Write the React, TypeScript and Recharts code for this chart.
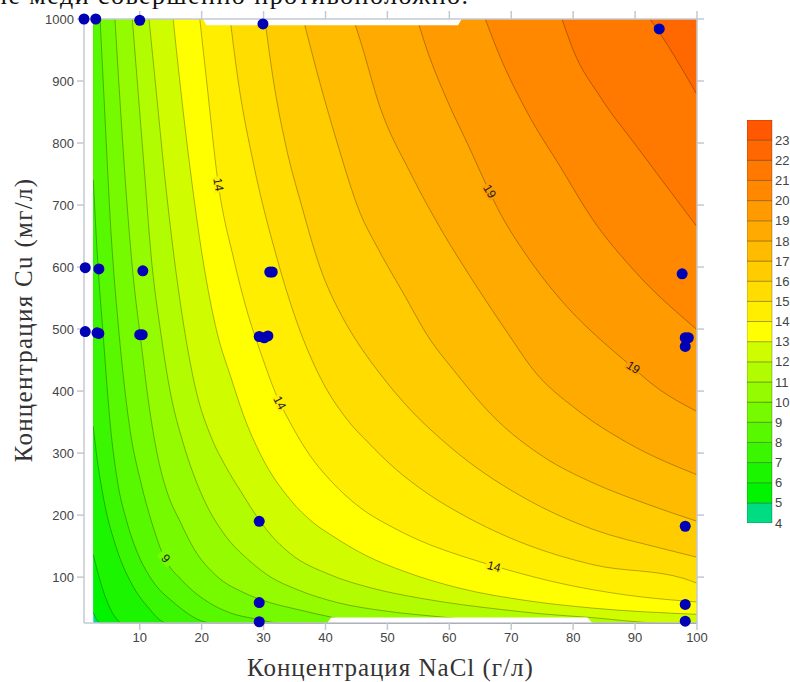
import React from 'react';
import { ComposedChart, Area, Scatter, XAxis, YAxis, BarChart, Bar } from 'recharts';

type Pt = { x: number; y: number };
const pts = (rows: number[][]): Pt[] => rows.map(([x, y]) => ({ x, y }));

const xTicks = [10, 20, 30, 40, 50, 60, 70, 80, 90, 100];
const yTicks = [100, 200, 300, 400, 500, 600, 700, 800, 900, 1000];
const legendTicks = [4, 5, 6, 7, 8, 9, 10, 11, 12, 13, 14, 15, 16, 17, 18, 19, 20, 21, 22, 23];
const bandColors = ['#00DC82', '#00F400', '#1CF500', '#3AF600', '#58F800', '#76FA00', '#94FB00', '#B1FC00', '#CFFD00', '#FFFF00', '#FFEE00', '#FFDD00', '#FFCC00', '#FFBB00', '#FFAA00', '#FF9A00', '#FF8800', '#FF7800', '#FF6800', '#FF5800'];

const level4 = [[2.5, 26], [100, 26]];
const level5 = [[2.5, 42], [3.7, 26]];
const level6 = [[2.5, 136], [4.2, 75], [6.3, 32], [7, 26]];
const level7 = [[2.5, 343], [3, 300], [4.2, 225], [6.3, 145], [8.6, 91], [11.2, 53], [14.4, 26]];
const level8 = [[2.5, 741], [3.2, 612], [4.1, 490], [5.3, 340], [6.4, 255], [7.9, 190], [9.6, 140], [11.8, 98], [15.5, 59], [21.7, 26]];
const level9 = [[3.6, 1000], [4.2, 880], [5.4, 650], [6.6, 500], [8.4, 340], [10.2, 252], [11.8, 193], [13.9, 133], [16.7, 96], [20.4, 64], [24.7, 42], [28.5, 33], [32.7, 26]];
const level10 = [[6, 1000], [6.8, 870], [7.9, 708], [8.9, 590], [10.2, 480], [11.6, 370], [13, 290], [14.5, 235], [16.5, 190], [18.8, 145], [22.5, 101], [26.8, 75], [31, 59], [35.4, 48], [40.7, 36], [46, 26]];
const level11 = [[8.8, 1000], [9.6, 900], [10.7, 762], [11.9, 612], [13.4, 494], [15, 395], [16.9, 320], [18.6, 268], [20.9, 214], [23.6, 170], [28, 124], [31, 101], [35.4, 80], [41.9, 59], [49.9, 45], [58.5, 36], [70, 26]];
const level12 = [[11.5, 1000], [12.7, 880], [14, 750], [15.6, 612], [17.3, 494], [19, 405], [21.7, 322], [23.8, 280], [26.4, 237], [28.9, 198], [31, 170], [34.3, 138], [40.7, 104], [47.2, 83], [55.3, 66], [61.7, 56], [68.2, 48], [74.7, 41], [82.7, 35], [94.5, 26]];
const level13 = [[15.4, 1000], [16.5, 897], [18.1, 762], [20.2, 612], [22.5, 494], [24.7, 423], [26.8, 360], [29.6, 296], [34.3, 225], [38, 188], [41.2, 166], [46.7, 134], [52.5, 110], [61.7, 82], [72.6, 62], [83.2, 50], [100, 40]];
const level14 = [[19.7, 1000], [20.8, 900], [22.6, 740], [25.2, 612], [27.3, 530], [29.6, 460], [32, 395], [34.3, 349], [37.5, 296], [40.7, 257], [45.6, 212], [50.9, 180], [56.9, 152], [61.7, 135], [65.5, 123], [69.3, 112], [77.9, 90], [88.7, 71], [97.3, 62], [100, 60]];
const level15 = [[24.6, 1000], [25.9, 900], [28.3, 770], [32, 620], [35.6, 505], [39.1, 423], [43.5, 354], [47, 316], [50.9, 278], [56.9, 232], [61.7, 203], [72.6, 152], [83.2, 120], [97.8, 98], [100, 90]];
const level16 = [[30.2, 1000], [31.6, 900], [33.5, 800], [36.2, 697], [39.1, 600], [42.8, 518], [45.6, 472], [48.8, 428], [53.7, 370], [58.5, 324], [61.7, 297], [72.6, 225], [83.2, 177], [94, 147], [100, 132]];
const level17 = [[36.4, 1000], [39.1, 897], [41.9, 800], [45.6, 687], [48.3, 633], [52.5, 559], [56.9, 483], [60.6, 435], [67.1, 359], [75.2, 294], [83.2, 252], [91.3, 220], [100, 190]];
const level18 = [[44.5, 1000], [45.6, 966], [48.8, 858], [53.7, 752], [59, 655], [63.8, 578], [69.8, 488], [73.5, 435], [80.6, 370], [88.7, 317], [100, 265]];
const level19 = [[54.8, 1000], [56.4, 950], [59.6, 870], [63.4, 789], [65.8, 736], [68.2, 687], [72.6, 617], [79, 536], [84.4, 483], [88.1, 451], [94, 402], [100, 367]];
const level20 = [[65.8, 1000], [68.2, 939], [72.6, 849], [77.9, 762], [83.2, 676], [89.7, 596], [100, 499]];
const level21 = [[78.2, 1000], [80, 950], [84.4, 874], [90.3, 794], [100, 665]];
const level22 = [[92.4, 1000], [94, 977], [100, 878]];
const contours = [level4, level5, level6, level7, level8, level9, level10, level11, level12, level13, level14, level15, level16, level17, level18, level19, level20, level21, level22];

const gapTop = [[20.2, 1000], [20.8, 990], [61.4, 990], [62, 1000]];
const gapBottom = [[40.3, 26], [40.9, 35], [82.3, 35], [83.1, 26]];

const measured = [
  [1, 1000], [2.9, 1000], [10, 998], [29.9, 992], [93.9, 984],
  [1.2, 599], [3.4, 597], [10.5, 594], [31, 592], [31.4, 592], [97.6, 589],
  [1.2, 496], [3.1, 494], [3.4, 493], [10, 491], [10.4, 491],
  [29.3, 488], [30.1, 486], [30.7, 489], [98.6, 486], [98.1, 486], [98.1, 472],
  [29.3, 190], [29.3, 59], [29.3, 28], [98.1, 182], [98.1, 56], [98.1, 29],
];

const contourLabels = [
  { x: 22.7, y: 733, level: 14, angle: 80 },
  { x: 32.6, y: 381, level: 14, angle: 62 },
  { x: 67.2, y: 117, level: 14, angle: 14 },
  { x: 66.5, y: 722, level: 19, angle: 58 },
  { x: 89.7, y: 438, level: 19, angle: 33 },
  { x: 14.2, y: 130, level: 9, angle: 50 },
];

const legendRow: Record<string, number | string> = { name: 'z', base: 4 };
legendTicks.forEach((t) => { legendRow['b' + t] = 1; });

const closed = (rows: number[][]): Pt[] => {
  const last = rows[rows.length - 1];
  return last[0] < 100 ? pts([...rows, [100, 26]]) : pts(rows);
};

const axisGrey = '#c4c8d0';
const tickStyle = { fontFamily: '"Liberation Sans", Arial, sans-serif', fontSize: 13, fill: '#444' };
const titleStyle: React.CSSProperties = { position: 'absolute', fontFamily: '"Liberation Serif", serif', fontSize: 25, color: '#333', whiteSpace: 'nowrap', lineHeight: '29px' };
const blank = () => '';

const Dot = (p: any) => <circle cx={p.cx} cy={p.cy} r={5.5} fill="#0000B4" />;
const LevelLabel = (p: any) => {
  const c = bandColors[p.payload.level - 4];
  return (
    <g transform={`translate(${p.cx},${p.cy}) rotate(${p.payload.angle})`}>
      <rect x={-8} y={-5} width={16} height={10} fill={c} />
      <text x={0} y={4} textAnchor="middle" fontFamily='"Liberation Sans", Arial, sans-serif' fontSize={12} fill="#222">{p.payload.level}</text>
    </g>
  );
};

export default function App() {
  return (
    <div style={{ position: 'absolute', left: 0, top: 0, width: 790, height: 682, overflow: 'hidden', background: '#fff' }}>
      <div style={{ position: 'absolute', left: -7, top: -19, fontFamily: '"Liberation Serif", serif', fontSize: 26, letterSpacing: 1.47, lineHeight: '29px', color: '#111', whiteSpace: 'nowrap' }}>ие меди совершенно противоположно.</div>
      <ComposedChart width={790} height={682} data={[]} margin={{ top: 18, right: 92, left: 40, bottom: 29 }} style={{ position: 'absolute', left: 0, top: 0 }}>
        {contours.map((c, i) => (
          <Area key={i} data={closed(c)} dataKey="y" type="monotone" baseValue={1000} fill={bandColors[i]} fillOpacity={1}
            stroke={i === 0 ? 'none' : '#000'} strokeOpacity={0.36} strokeWidth={0.8} dot={false} activeDot={false} isAnimationActive={false} />
        ))}
        <Area data={pts(gapTop)} dataKey="y" type="linear" baseValue={1000} fill="#fff" fillOpacity={1} stroke="none" dot={false} activeDot={false} isAnimationActive={false} />
        <Area data={pts(gapBottom)} dataKey="y" type="linear" baseValue={26} fill="#fff" fillOpacity={1} stroke="none" dot={false} activeDot={false} isAnimationActive={false} />
        <XAxis xAxisId={0} type="number" dataKey="x" domain={[1, 100]} ticks={xTicks} interval={0} height={30} tick={tickStyle} stroke={axisGrey} strokeWidth={1.5} tickSize={7} tickMargin={3} />
        <XAxis xAxisId="top" orientation="top" type="number" dataKey="x" domain={[1, 100]} ticks={xTicks} interval={0} height={1} tickFormatter={blank} stroke={axisGrey} strokeWidth={1.5} tickSize={8} />
        <YAxis yAxisId={0} type="number" dataKey="y" domain={[26, 1000]} ticks={yTicks} interval={0} width={44} tick={tickStyle} stroke={axisGrey} strokeWidth={1.5} tickSize={7} tickMargin={3} />
        <YAxis yAxisId="right" orientation="right" type="number" dataKey="y" domain={[26, 1000]} ticks={yTicks} interval={0} width={1} tickFormatter={blank} stroke={axisGrey} strokeWidth={1.5} tickSize={7} />
        <Scatter data={contourLabels} dataKey="y" shape={LevelLabel} isAnimationActive={false} />
        <Scatter xAxisId="top" yAxisId="right" data={pts(measured)} dataKey="y" shape={Dot} isAnimationActive={false} />
      </ComposedChart>
      <div style={{ ...titleStyle, left: 247, top: 653, letterSpacing: 1 }}>Концентрация NaCl (г/л)</div>
      <div style={{ ...titleStyle, left: 23, top: 320, letterSpacing: 1.3, transform: 'translate(-50%,-50%) rotate(-90deg)' }}>Концентрация Cu (мг/л)</div>
      <BarChart width={60} height={423} data={[legendRow]} margin={{ top: 10, right: 0, left: 0, bottom: 10 }} barCategoryGap={0} style={{ position: 'absolute', left: 747, top: 110 }}>
        <XAxis dataKey="name" hide />
        <YAxis orientation="right" type="number" domain={[4, 24]} allowDataOverflow ticks={legendTicks} interval={0} width={35} axisLine={false} tickLine={false} tickSize={0} tick={tickStyle} tickMargin={3} />
        <Bar dataKey="base" stackId="scale" fill="none" stroke="none" isAnimationActive={false} />
        {legendTicks.map((t, i) => (
          <Bar key={t} dataKey={'b' + t} stackId="scale" fill={bandColors[i]} stroke="#000" strokeOpacity={0.25} strokeWidth={1} isAnimationActive={false} />
        ))}
      </BarChart>
    </div>
  );
}
